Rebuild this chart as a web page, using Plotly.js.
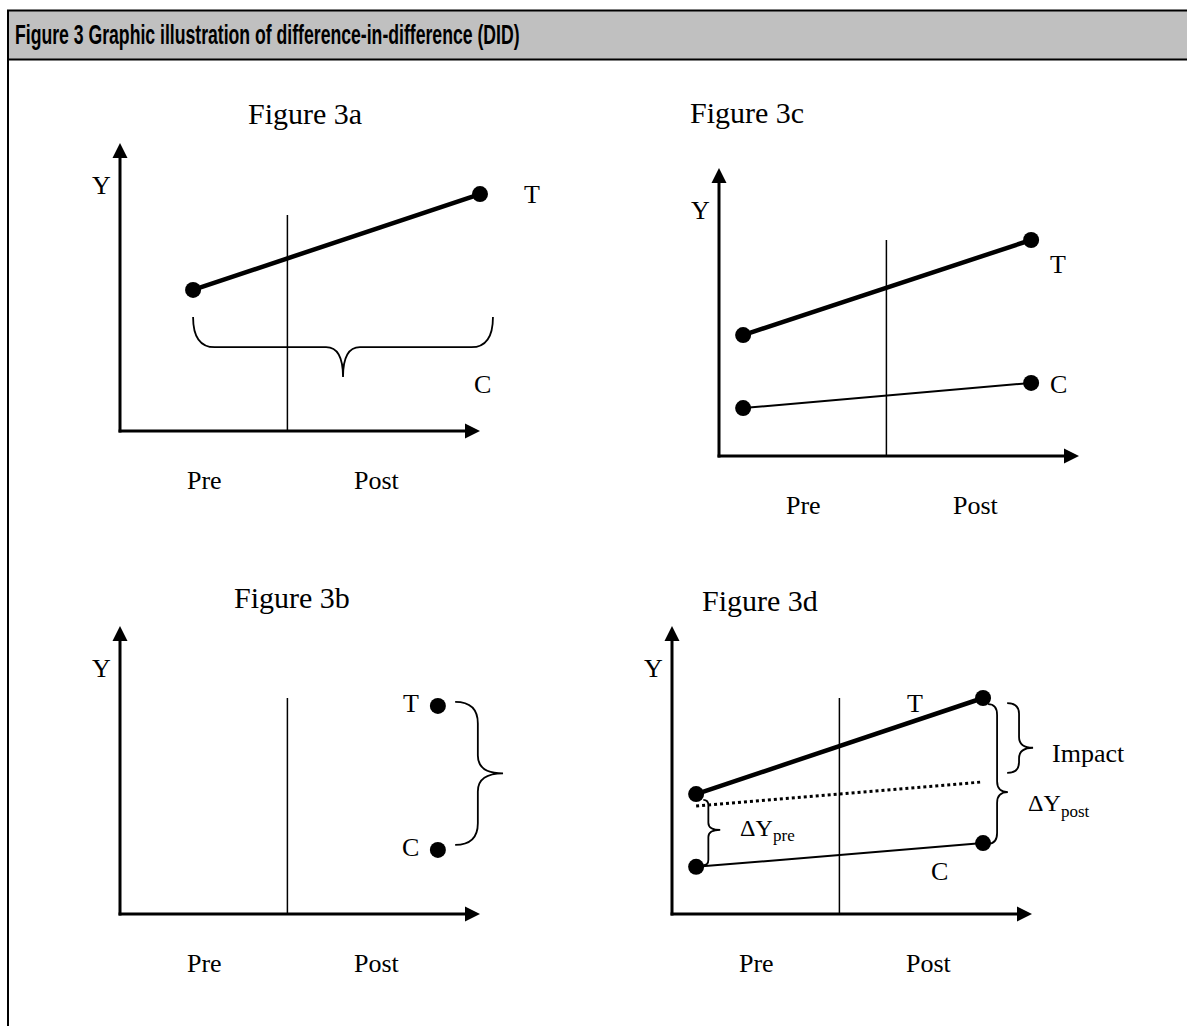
<!DOCTYPE html>
<html>
<head>
<meta charset="utf-8">
<script src="https://cdn.plot.ly/plotly-3.0.1.min.js"></script>
<style>
  html, body { margin: 0; padding: 0; background: #ffffff; }
  #chart { width: 1187px; height: 1026px; }
</style>
</head>
<body>
<div id="chart"></div>
<script>
// ---- Values for the four DID panels (time on x, outcome Y on y) ----
const periodLabels = ['Pre', 'Post'];
const periodLabelX = [2.35, 7.15];

// Figure 3a: treated group only
const aTimeX = [2.03, 10.0];
const aTreatY = [3.92, 6.58];

// Figure 3c: treated and comparison groups
const cTimeX = [0.67, 8.67];
const cTreatY = [3.36, 6.0];
const cCtrlY = [1.33, 2.03];

// Figure 3b: post period only
const bTimeX = [8.83];
const bTreatY = [5.78];
const bCtrlY = [1.78];

// Figure 3d: treated, comparison and counterfactual trend
const dTimeX = [0.67, 8.64];
const dTreatY = [3.33, 6.0];
const dCtrlY = [1.31, 1.97];
const dCounterY = [3.0, 3.67];

const treatmentStart = 4.65;
const dividerTop = 6.0;

// ---- Geometry ----
const W = 1187, H = 1026, UNIT = 36;
const X_RANGE = [-1.5, 13], Y_RANGE = [-2, 10];
const AXIS_LEN_X = 10, AXIS_LEN_Y = 8;

// axis suffix and pixel origin of each panel
const panelA = { id: '',  origin: [120, 431] };
const panelC = { id: '2', origin: [719, 456] };
const panelB = { id: '3', origin: [120, 914] };
const panelD = { id: '4', origin: [672, 914] };
const panels = [panelA, panelC, panelB, panelD];

const SERIF = 'Liberation Serif, Times New Roman, serif';
const INK = '#000000';

function clamp01(v) { return Math.max(0, Math.min(1, v)); }

const layout = {
  width: W, height: H,
  margin: { l: 0, r: 0, t: 0, b: 0, pad: 0 },
  paper_bgcolor: '#ffffff',
  plot_bgcolor: 'rgba(0,0,0,0)',
  showlegend: false,
  hovermode: false,
  shapes: [],
  annotations: []
};

panels.forEach(p => {
  const [ox, oy] = p.origin;
  const base = { visible: false, fixedrange: true, showgrid: false, zeroline: false };
  layout['xaxis' + p.id] = Object.assign({}, base, {
    range: X_RANGE,
    domain: [clamp01((ox + X_RANGE[0] * UNIT) / W), clamp01((ox + X_RANGE[1] * UNIT) / W)],
    anchor: 'y' + p.id
  });
  layout['yaxis' + p.id] = Object.assign({}, base, {
    range: Y_RANGE,
    domain: [clamp01(1 - (oy - Y_RANGE[0] * UNIT) / H), clamp01(1 - (oy - Y_RANGE[1] * UNIT) / H)],
    anchor: 'x' + p.id
  });
});

// ---- Header bar ----
layout.shapes.push({
  type: 'rect', xref: 'paper', yref: 'paper', layer: 'below',
  x0: 8 / W, x1: 1.02, y0: 1 - 59.5 / H, y1: 1 - 10.5 / H,
  fillcolor: '#c0c0c0', line: { color: INK, width: 2 }
});
layout.shapes.push({
  type: 'line', xref: 'paper', yref: 'paper',
  x0: 8 / W, x1: 8 / W, y0: 1 - 59.5 / H, y1: -0.01,
  line: { color: INK, width: 2 }
});
layout.annotations.push({
  xref: 'paper', yref: 'paper', x: 13 / W, y: 1 - 35 / H,
  xanchor: 'left', yanchor: 'middle', showarrow: false, align: 'left',
  text: 'Figure 3 Graphic illustration of difference-in-difference (DID)',
  font: { family: 'Liberation Sans, Arial, sans-serif', size: 28, weight: 700, color: INK }
});

// ---- Helpers ----
const traces = [];
function refs(p) { return { xref: 'x' + p.id, yref: 'y' + p.id }; }

function axes(p) {
  const xa = 'x' + p.id, ya = 'y' + p.id;
  const lineStyle = { color: INK, width: 3 };
  // axis shafts
  traces.push({ type: 'scatter', mode: 'lines', xaxis: xa, yaxis: ya,
    x: [-0.04, AXIS_LEN_X - 0.3], y: [0, 0], line: lineStyle, cliponaxis: false, hoverinfo: 'skip' });
  traces.push({ type: 'scatter', mode: 'lines', xaxis: xa, yaxis: ya,
    x: [0, 0], y: [-0.04, AXIS_LEN_Y - 0.3], line: lineStyle, cliponaxis: false, hoverinfo: 'skip' });
  // arrowheads
  traces.push({ type: 'scatter', mode: 'markers', xaxis: xa, yaxis: ya,
    x: [AXIS_LEN_X, 0], y: [0, AXIS_LEN_Y],
    marker: { symbol: ['arrow-right', 'arrow-up'], size: 15, color: INK, line: { width: 0 } },
    cliponaxis: false, hoverinfo: 'skip' });
}

function label(p, text, x, y, size, extra) {
  const r = refs(p);
  layout.annotations.push(Object.assign({
    xref: r.xref, yref: r.yref, x: x, y: y, text: text, showarrow: false,
    xanchor: 'center', yanchor: 'middle',
    font: { family: SERIF, size: size || 26, color: INK }
  }, extra || {}));
}

// "ΔY" with a lowered, smaller suffix placed right after it
function deltaLabel(p, suffix, xJoin, y) {
  label(p, '\u0394Y', xJoin, y, 24, { xanchor: 'right', borderpad: 0 });
  label(p, suffix, xJoin - 0.06, y - 0.22, 17, { xanchor: 'left', borderpad: 0 });
}

function periodTicks(p) {
  periodLabels.forEach((t, i) => label(p, t, periodLabelX[i], -1.37, 26));
  label(p, 'Y', -0.52, 6.83, 26);
}

// curly brace along "a" (y if vertical, x otherwise); ends at b0, spine at bSpine, tip at bTip
function bracePath(vertical, a0, a1, aTip, b0, bSpine, bTip, cEnd, cTip) {
  const s = Math.sign(a1 - a0);
  const pt = (a, b) => vertical ? (b + ',' + a) : (a + ',' + b);
  return 'M' + pt(a0, b0) +
    ' Q' + pt(a0, bSpine) + ' ' + pt(a0 + s * cEnd, bSpine) +
    ' L' + pt(aTip - s * cTip, bSpine) +
    ' Q' + pt(aTip, bSpine) + ' ' + pt(aTip, bTip) +
    ' Q' + pt(aTip, bSpine) + ' ' + pt(aTip + s * cTip, bSpine) +
    ' L' + pt(a1 - s * cEnd, bSpine) +
    ' Q' + pt(a1, bSpine) + ' ' + pt(a1, b0);
}

function brace(p, path) {
  const r = refs(p);
  layout.shapes.push({
    type: 'path', xref: r.xref, yref: r.yref, path: path,
    line: { color: INK, width: 1.8 }, fillcolor: 'rgba(0,0,0,0)'
  });
}

function divider(p) {
  traces.push({
    type: 'scatter', mode: 'lines', xaxis: 'x' + p.id, yaxis: 'y' + p.id,
    x: [treatmentStart, treatmentStart], y: [0, dividerTop],
    line: { color: INK, width: 1.5 }, hoverinfo: 'skip', cliponaxis: false
  });
}
function series(p, xs, ys, width, mode) {
  traces.push({
    type: 'scatter', mode: mode || 'lines+markers', xaxis: 'x' + p.id, yaxis: 'y' + p.id,
    x: xs, y: ys,
    line: { color: INK, width: width },
    marker: { color: INK, size: 16, line: { width: 0 } },
    cliponaxis: false, hoverinfo: 'skip'
  });
}

// ---- Figure 3a ----
divider(panelA);
series(panelA, aTimeX, aTreatY, 4.5);
axes(panelA);
periodTicks(panelA);
label(panelA, 'Figure 3a', 5.14, 8.83, 30);
label(panelA, 'T', 11.44, aTreatY[1], 26);
label(panelA, 'C', 10.08, 1.28, 26);
{
  const a0 = aTimeX[0], a1 = aTimeX[1] + 0.36;
  const b0 = aTreatY[0] - 0.75, bSpine = b0 - 0.84, bTip = bSpine - 0.83;
  brace(panelA, bracePath(false, a0, a1, (a0 + a1) / 2, b0, bSpine, bTip, 0.6, 0.47));
}

// ---- Figure 3c ----
divider(panelC);
series(panelC, cTimeX, cTreatY, 4.5);
series(panelC, cTimeX, cCtrlY, 2);
axes(panelC);
periodTicks(panelC);
label(panelC, 'Figure 3c', 0.78, 9.53, 30);
label(panelC, 'T', 9.42, cTreatY[1] - 0.67, 26);
label(panelC, 'C', 9.44, cCtrlY[1] - 0.03, 26);

// ---- Figure 3b ----
divider(panelB);
series(panelB, bTimeX, bTreatY, 0, 'markers');
series(panelB, bTimeX, bCtrlY, 0, 'markers');
axes(panelB);
periodTicks(panelB);
label(panelB, 'Figure 3b', 4.78, 8.78, 30);
label(panelB, 'T', bTimeX[0] - 0.75, bTreatY[0] + 0.08, 26);
label(panelB, 'C', bTimeX[0] - 0.75, bCtrlY[0] + 0.08, 26);
{
  const a0 = bTreatY[0] + 0.11, a1 = bCtrlY[0] + 0.14;
  const b0 = bTimeX[0] + 0.48, bSpine = b0 + 0.63, bTip = bSpine + 0.7;
  brace(panelB, bracePath(true, a0, a1, (a0 + a1) / 2, b0, bSpine, bTip, 0.6, 0.5));
}

// ---- Figure 3d ----
divider(panelD);
traces.push({
  type: 'scatter', mode: 'lines', xaxis: 'x4', yaxis: 'y4',
  x: dTimeX, y: dCounterY, line: { color: INK, width: 3, dash: 'dot' },
  cliponaxis: false, hoverinfo: 'skip'
});
series(panelD, dTimeX, dTreatY, 4.5);
series(panelD, dTimeX, dCtrlY, 2);
axes(panelD);
periodTicks(panelD);
label(panelD, 'Figure 3d', 2.44, 8.72, 30);
label(panelD, 'T', 6.75, 5.86, 26);
label(panelD, 'C', 7.44, 1.17, 26);
label(panelD, 'Impact', 11.56, 4.45, 26);
deltaLabel(panelD, 'post', 10.83, 3.08);
deltaLabel(panelD, 'pre', 2.83, 2.4);
{
  // pre-period gap
  const a0 = dTreatY[0] - 0.16, a1 = dCtrlY[0] + 0.05;
  const b0 = dTimeX[0] + 0.2, bSpine = b0 + 0.14, bTip = bSpine + 0.33;
  brace(panelD, bracePath(true, a0, a1, a0 + (a1 - a0) * 0.46, b0, bSpine, bTip, 0.15, 0.2));
}
{
  // post-period gap
  const a0 = dTreatY[1] - 0.17, a1 = dCtrlY[1] - 0.02;
  const b0 = dTimeX[1] + 0.14, bSpine = b0 + 0.25, bTip = bSpine + 0.3;
  brace(panelD, bracePath(true, a0, a1, a0 + (a1 - a0) * 0.63, b0, bSpine, bTip, 0.3, 0.3));
}
{
  // impact: treated outcome above the counterfactual
  const a0 = dTreatY[1] - 0.14, a1 = dCounterY[1] + 0.25;
  const b0 = dTimeX[1] + 0.67, bSpine = b0 + 0.33, bTip = bSpine + 0.39;
  brace(panelD, bracePath(true, a0, a1, a0 + (a1 - a0) * 0.64, b0, bSpine, bTip, 0.3, 0.3));
}

Plotly.newPlot('chart', traces, layout, { staticPlot: true, displayModeBar: false }).then(gd => {
  // condensed header lettering
  const t = gd.querySelector('.annotation[data-index="0"] text.annotation-text');
  if (t) {
    t.style.transformBox = 'fill-box';
    t.style.transformOrigin = '0% 50%';
    t.style.transform = 'scaleX(0.63)';
  }
});
</script>
</body>
</html>
